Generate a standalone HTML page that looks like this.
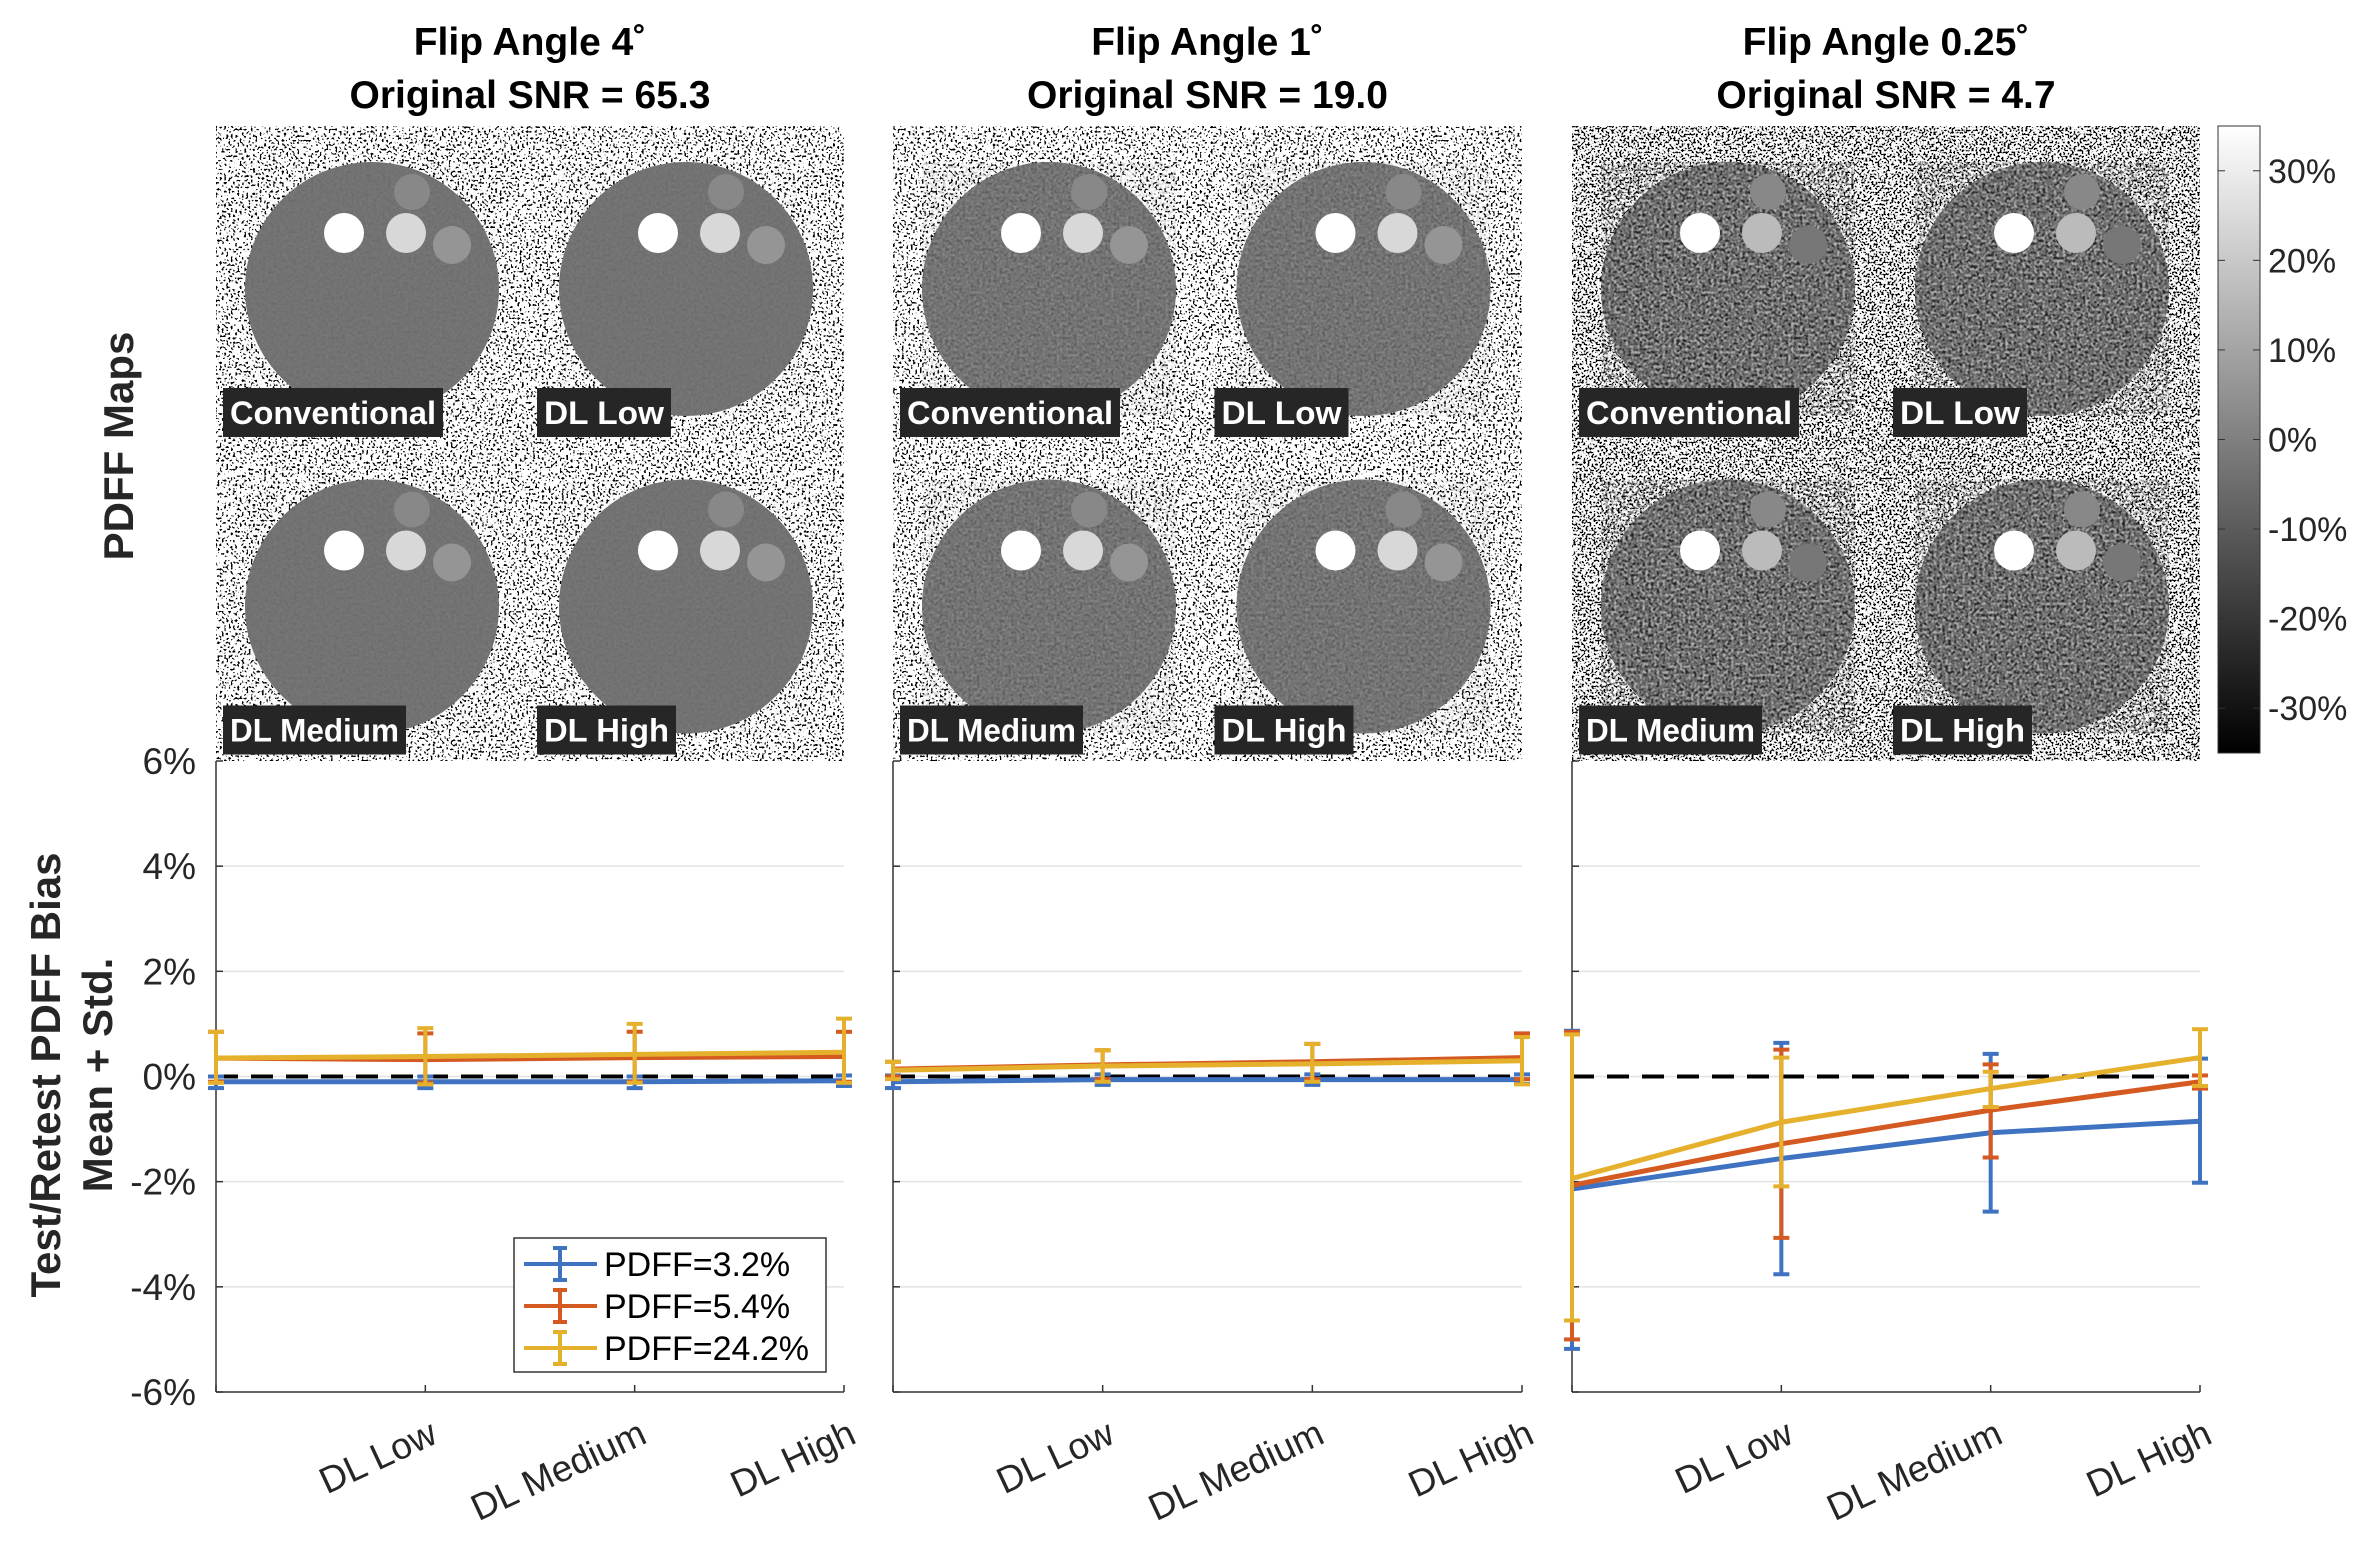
<!DOCTYPE html>
<html><head><meta charset="utf-8">
<style>
html,body{margin:0;padding:0;background:#fff;}
body{width:2373px;height:1546px;position:relative;overflow:hidden;font-family:"Liberation Sans",Arial,sans-serif;}
svg{position:absolute;left:0;top:0;}
</style></head>
<body>
<svg id="fig" width="2373" height="1546" viewBox="0 0 2373 1546" xmlns="http://www.w3.org/2000/svg">
<defs>
<filter id="speckle1" x="0" y="0" width="100%" height="100%">
<feTurbulence type="fractalNoise" baseFrequency="0.45" numOctaves="1" seed="3"/>
<feColorMatrix type="matrix" values="0 0 0 0 0  0 0 0 0 0  0 0 0 0 0  20 0 0 0 -11.6"/>
</filter>
<filter id="speckle3" x="0" y="0" width="100%" height="100%">
<feTurbulence type="fractalNoise" baseFrequency="0.5" numOctaves="1" seed="7"/>
<feColorMatrix type="matrix" values="0 0 0 0 0  0 0 0 0 0  0 0 0 0 0  20 0 0 0 -10.7"/>
</filter>
<filter id="tex" x="0" y="0" width="100%" height="100%">
<feTurbulence type="fractalNoise" baseFrequency="0.35" numOctaves="1" seed="11"/>
<feColorMatrix type="matrix" values="0 0 0 0 0  0 0 0 0 0  0 0 0 0 0  -4 0 0 0 2.2"/>
</filter>
<filter id="texw" x="0" y="0" width="100%" height="100%">
<feTurbulence type="fractalNoise" baseFrequency="0.35" numOctaves="1" seed="23"/>
<feColorMatrix type="matrix" values="0 0 0 0 1  0 0 0 0 1  0 0 0 0 1  -4 0 0 0 2.2"/>
</filter>
<linearGradient id="cbar" x1="0" y1="0" x2="0" y2="1">
<stop offset="0" stop-color="#fff"/><stop offset="1" stop-color="#000"/>
</linearGradient>
</defs>
<g id="images"></g>
<g id="plots"></g>
<g id="labels"></g>
</svg>
<script>
// ---- chart data ----
const categories = ["Conventional","DL Low","DL Medium","DL High"];
const yTicks = [-6,-4,-2,0,2,4,6];
const seriesNames = ["PDFF=3.2%","PDFF=5.4%","PDFF=24.2%"];
const cbTicks = [30,20,10,0,-10,-20,-30];
// panel 1 (Flip angle 4)
const p1Blue = [-0.10,-0.10,-0.10,-0.08];
const p1BlueLo = [-0.22,-0.22,-0.22,-0.18];
const p1BlueHi = [0.0,0.0,0.0,0.02];
const p1Orange = [0.35,0.32,0.36,0.38];
const p1OrangeLo = [-0.1,-0.12,-0.1,-0.1];
const p1OrangeHi = [0.85,0.82,0.85,0.85];
const p1Yellow = [0.35,0.38,0.42,0.46];
const p1YellowLo = [-0.12,-0.15,-0.12,-0.12];
const p1YellowHi = [0.85,0.92,1.0,1.1];
// panel 2 (Flip angle 1)
const p2Blue = [-0.1,-0.06,-0.06,-0.06];
const p2BlueLo = [-0.22,-0.16,-0.16,-0.14];
const p2BlueHi = [0.02,0.04,0.04,0.04];
const p2Orange = [0.14,0.22,0.28,0.36];
const p2OrangeLo = [0.0,-0.05,-0.05,-0.05];
const p2OrangeHi = [0.28,0.5,0.62,0.82];
const p2Yellow = [0.12,0.2,0.24,0.3];
const p2YellowLo = [-0.05,-0.1,-0.1,-0.15];
const p2YellowHi = [0.28,0.5,0.62,0.75];
// panel 3 (Flip angle 0.25)
const p3Blue = [-2.14,-1.56,-1.07,-0.85];
const p3BlueLo = [-5.18,-3.76,-2.57,-2.02];
const p3BlueHi = [0.87,0.64,0.43,0.34];
const p3Orange = [-2.07,-1.28,-0.64,-0.1];
const p3OrangeLo = [-5.0,-3.07,-1.54,-0.23];
const p3OrangeHi = [0.85,0.51,0.23,0.02];
const p3Yellow = [-1.94,-0.87,-0.23,0.36];
const p3YellowLo = [-4.64,-2.09,-0.58,-0.18];
const p3YellowHi = [0.8,0.36,0.09,0.9];

const NS="http://www.w3.org/2000/svg";
function mk(tag,attrs,parent){const e=document.createElementNS(NS,tag);for(const k in attrs)e.setAttribute(k,attrs[k]);if(parent)parent.appendChild(e);return e;}
const colors=["#3f72c0","#d45a22","#e5b02b"];
const panelsX=[[216,844],[893,1522],[1572,2200]];
const Y0=761,Y1=1392,YMIN=-6,YMAX=6;
const IMG_TOP=126, IMG_H=635;
function ys(v){return Y1-(v-YMIN)/(YMAX-YMIN)*(Y1-Y0);}
function xs(p,i){const [a,b]=panelsX[p];return a+i/(categories.length-1)*(b-a);}

// ---- images ----
const imgG=document.getElementById('images');
const panelGray=["#737373","#747474","#6c6c6c"];
for(let p=0;p<3;p++){
  const [a,b]=panelsX[p];
  const W=b-a, sw=W/2, sh=IMG_H/2;
  const pg=mk('g',{},imgG);
  
  
  mk('rect',{x:a,y:IMG_TOP,width:W,height:IMG_H,fill:'#fff'},pg);
  mk('rect',{x:a,y:IMG_TOP,width:W,height:IMG_H,fill:'#000',filter:p==2?'url(#speckle3)':'url(#speckle1)'},pg);
  const subs=[[0,0,"Conventional"],[1,0,"DL Low"],[0,1,"DL Medium"],[1,1,"DL High"]];
  subs.forEach(([c,r,lab])=>{
    const ox=a+c*sw, oy=IMG_TOP+r*sh;
    const cx=ox+156, cy=oy+163;
    const sg=mk('g',{},pg);
    
    
    mk('circle',{cx:cx,cy:cy,r:127,fill:panelGray[p]},sg);
    mk('circle',{cx:cx,cy:cy,r:127,fill:'#000',filter:'url(#tex)',opacity:p==2?0.65:(p==1?0.18:0.05)},sg);
    mk('circle',{cx:cx,cy:cy,r:127,fill:'#fff',filter:'url(#texw)',opacity:p==2?0.45:(p==1?0.12:0.03)},sg);
    mk('circle',{cx:cx+40,cy:cy-97,r:18,fill:'#888'},sg);
    mk('circle',{cx:cx-28,cy:cy-56,r:20,fill:'#fff'},sg);
    mk('circle',{cx:cx+34,cy:cy-56,r:20,fill:p==2?'#bbb':'#d8d8d8'},sg);
    mk('circle',{cx:cx+80,cy:cy-44,r:19,fill:p==2?'#777':'#959595'},sg);
    const lx=ox+7, ly=oy+262;
    const bw=lab==="Conventional"?220:(lab==="DL Medium"?183:(lab==="DL Low"?134:139));
    const box=mk('rect',{x:lx,y:ly,width:bw,height:49,fill:'#262626'},sg);
    
    
    const t=mk('text',{x:lx+7,y:ly+36,fill:'#fff','font-size':32,'font-weight':'bold',textLength:bw-14,lengthAdjust:'spacingAndGlyphs'},sg);
    t.textContent=lab;
  });
}
// colorbar
const cbG=mk('g',{},imgG);


const CB_TOP=126, CB_H=627;
mk('rect',{x:2218,y:CB_TOP,width:42,height:CB_H,fill:'url(#cbar)',stroke:'#333','stroke-width':1},cbG);
cbTicks.forEach(v=>{
  const y=CB_TOP+(35-v)/70*CB_H;
  mk('line',{x1:2218,x2:2225,y1:y,y2:y,stroke:'#333'},cbG);
  mk('line',{x1:2253,x2:2260,y1:y,y2:y,stroke:'#333'},cbG);
  const t=mk('text',{x:2268,y:y+12,'font-size':34,fill:'#262626'},cbG);
  
  
  t.textContent=v+'%';
});

// ---- plots ----
const plotsG=document.getElementById('plots');
const data=[[[p1Blue,p1BlueLo,p1BlueHi],[p1Orange,p1OrangeLo,p1OrangeHi],[p1Yellow,p1YellowLo,p1YellowHi]],
            [[p2Blue,p2BlueLo,p2BlueHi],[p2Orange,p2OrangeLo,p2OrangeHi],[p2Yellow,p2YellowLo,p2YellowHi]],
            [[p3Blue,p3BlueLo,p3BlueHi],[p3Orange,p3OrangeLo,p3OrangeHi],[p3Yellow,p3YellowLo,p3YellowHi]]];
for(let p=0;p<3;p++){
  const [a,b]=panelsX[p];
  const g=mk('g',{},plotsG);
  
  
  mk('rect',{x:a,y:Y0,width:b-a,height:Y1-Y0,fill:'#fff'},g);
  yTicks.forEach(v=>{
    const y=ys(v);
    if(v>YMIN&&v<YMAX){const gl=mk('line',{x1:a,x2:b,y1:y,y2:y,stroke:'#e3e3e3','stroke-width':1.5},g);
      
      }
    mk('line',{x1:a,x2:a+7,y1:y,y2:y,stroke:'#333','stroke-width':1.5},g);
    if(p==0){const t=mk('text',{x:a-20,y:y+13,'text-anchor':'end','font-size':37,fill:'#262626'},g);
      
      
      t.textContent=v+'%';}
  });
  mk('line',{x1:a,x2:a,y1:Y0,y2:Y1,stroke:'#333','stroke-width':1.5},g);
  mk('line',{x1:a,x2:b,y1:Y1,y2:Y1,stroke:'#333','stroke-width':1.5},g);
  categories.forEach((c,i)=>{
    const x=xs(p,i);
    mk('line',{x1:x,x2:x,y1:Y1,y2:Y1-7,stroke:'#333','stroke-width':1.5},g);
    if(i>0){const t=mk('text',{x:x+14,y:Y1+50,'text-anchor':'end','font-size':37,fill:'#262626',transform:`rotate(-25 ${x+14} ${Y1+50})`},g);
      
      
      t.textContent=c;}
  });
  const zl=mk('line',{x1:a,x2:b,y1:ys(0),y2:ys(0),stroke:'#000','stroke-width':4,'stroke-dasharray':'22 13'},g);
  
  
  data[p].forEach((s,k)=>{
    const [m,lo,hi]=s;
    const sg=mk('g',{},g);
    
    
    m.forEach((v,i)=>{
      const x=xs(p,i);
      mk('line',{x1:x,x2:x,y1:ys(lo[i]),y2:ys(hi[i]),stroke:colors[k],'stroke-width':4},sg);
      mk('line',{x1:x-8,x2:x+8,y1:ys(lo[i]),y2:ys(lo[i]),stroke:colors[k],'stroke-width':4},sg);
      mk('line',{x1:x-8,x2:x+8,y1:ys(hi[i]),y2:ys(hi[i]),stroke:colors[k],'stroke-width':4},sg);
    });
    const pl=mk('polyline',{points:m.map((v,i)=>xs(p,i)+','+ys(v)).join(' '),fill:'none',stroke:colors[k],'stroke-width':5},sg);
    
    
  });
}
// legend
const lg=mk('g',{},plotsG);


mk('rect',{x:514,y:1238,width:312,height:134,fill:'#fff',stroke:'#333','stroke-width':1.5},lg);
seriesNames.forEach((n,k)=>{
  const y=1264+k*42;
  const e=mk('g',{},lg);
  
  
  mk('line',{x1:524,x2:597,y1:y,y2:y,stroke:colors[k],'stroke-width':4},e);
  mk('line',{x1:560,x2:560,y1:y-16,y2:y+16,stroke:colors[k],'stroke-width':4},e);
  mk('line',{x1:553,x2:567,y1:y-16,y2:y-16,stroke:colors[k],'stroke-width':4},e);
  mk('line',{x1:553,x2:567,y1:y+16,y2:y+16,stroke:colors[k],'stroke-width':4},e);
  const t=mk('text',{x:604,y:y+12,'font-size':34,fill:'#000'},e);
  t.textContent=n;
});
// titles & axis labels
const lab=document.getElementById('labels');
const titles=[["Flip Angle 4˚","Original SNR = 65.3"],["Flip Angle 1˚","Original SNR = 19.0"],["Flip Angle 0.25˚","Original SNR = 4.7"]];
titles.forEach((tt,p)=>{
  const cx=(panelsX[p][0]+panelsX[p][1])/2;
  const t1=mk('text',{x:cx,y:55,'text-anchor':'middle','font-size':39,'font-weight':'bold',fill:'#000'},lab);
  
  
  t1.textContent=tt[0];
  const t2=mk('text',{x:cx,y:108,'text-anchor':'middle','font-size':39,'font-weight':'bold',fill:'#000'},lab);
  
  
  t2.textContent=tt[1];
});
const yl1=mk('text',{x:0,y:0,'text-anchor':'middle','font-size':42,'font-weight':'bold',fill:'#262626',transform:'translate(133 446) rotate(-90)'},lab);


yl1.textContent='PDFF Maps';
const yl2=mk('text',{x:0,y:0,'text-anchor':'middle','font-size':42,'font-weight':'bold',fill:'#262626',transform:'translate(60 1075) rotate(-90)'},lab);


yl2.textContent='Test/Retest PDFF Bias';
const yl3=mk('text',{x:0,y:0,'text-anchor':'middle','font-size':42,'font-weight':'bold',fill:'#262626',transform:'translate(112 1075) rotate(-90)'},lab);


yl3.textContent='Mean + Std.';
</script>
</body></html>
